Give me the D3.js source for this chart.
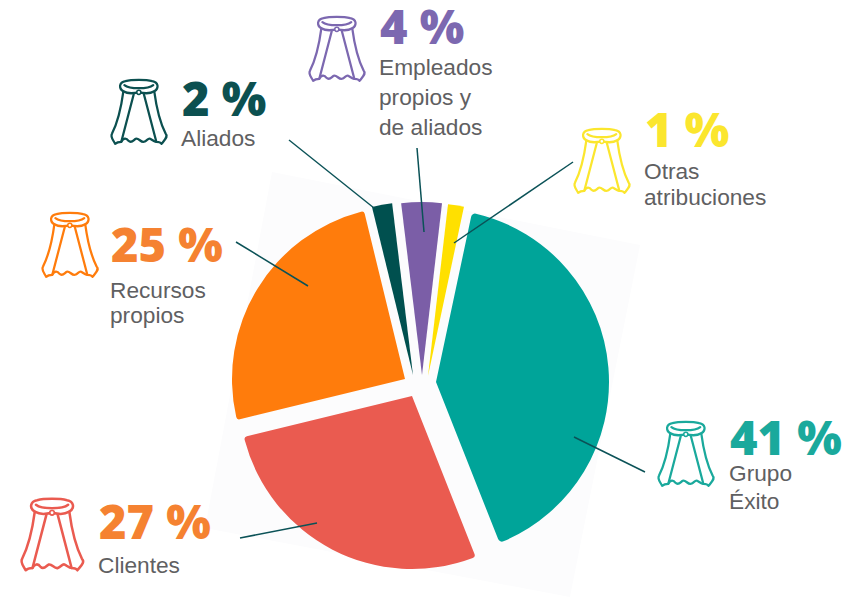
<!DOCTYPE html>
<html>
<head>
<meta charset="utf-8">
<script src="https://cdn.jsdelivr.net/npm/d3@7"></script>
<style>
  html, body { margin: 0; background: #fff; }
  svg { display: block; }
  .pct { font-family: "Open Sans", sans-serif; font-weight: 800; font-size: 47px; }
  .lbl { font-family: "Liberation Sans", sans-serif; font-size: 22.7px; fill: #5f6062; }
</style>
</head>
<body>
<div id="chart"></div>
<script>
// Values as printed on the chart
const categories = ["Grupo Éxito", "Clientes", "Recursos propios", "Aliados", "Empleados propios y de aliados", "Otras atribuciones"];
const percents = [41, 27, 25, 2, 4, 1];
const drawnShares = [41, 27.4, 25.2, 1.9, 3.8, 1.5];

const sliceColors = ["#00a499", "#ea5b50", "#ff7c0c", "#00504f", "#7b5ea7", "#ffe000"];
const pctColors = ["#1aa99c", "#f58231", "#f58231", "#0c5050", "#7c68b0", "#fbe62e"];
const capeColors = ["#1aa99c", "#ea5b50", "#ff7c0c", "#0c5050", "#7c68b0", "#fbe62e"];

// Label placement, same order as categories
const layout = [
  { x: 730, y: 455, lines: ["Grupo", "Éxito"], ly: [481, 509], cape: [658, 422, 1.03], leader: [645, 472, 574, 437] },
  { x: 99, y: 539, lines: ["Clientes"], ly: [573], cape: [21, 499, 1.15], leader: [240, 538, 317, 523] },
  { x: 111, y: 262, lines: ["Recursos", "propios"], ly: [298, 323], cape: [42, 213, 1.03], leader: [236, 242, 308, 286] },
  { x: 182, y: 116, lines: ["Aliados"], ly: [146], cape: [111, 80, 1.03], leader: [289, 140, 374, 208] },
  { x: 380, y: 44, lines: ["Empleados", "propios y", "de aliados"], ly: [75, 105, 135], cape: [309, 17, 1.03], leader: [417, 148, 424, 232] },
  { x: 645, y: 147, lines: ["Otras", "atribuciones"], ly: [179, 205], cape: [574, 129, 1.03], leader: [573, 162, 454, 243] },
];
// Where each slice's tip sits: the slices are pulled apart by hand in the picture
const tips = [[436, 382], [412, 396], [405, 379], [413, 375], [422, 375], [428, 376]];
const corners = [4, 3, 3, 0, 0, 0];

const width = 860;
const height = 599;
const radius = 173;

const svg = d3.select("#chart").append("svg").attr("width", width).attr("height", height);

// faint tilted sheet behind the pie
svg.append("polygon")
  .attr("points", "272,172 640,245 570,597 205,528")
  .attr("fill", "#fcfcfd");

const pie = d3.pie().sort(null).startAngle((12 * Math.PI) / 180).endAngle((372 * Math.PI) / 180);

const arc = d3.arc()
  .innerRadius(0)
  .outerRadius(radius)
  .cornerRadius((d) => d.corner);

svg.append("g")
  .selectAll("path")
  .data(pie(drawnShares))
  .enter()
  .append("path")
  .attr("d", (d, i) => arc({ ...d, corner: corners[i] }))
  .attr("fill", (d, i) => sliceColors[i])
  .attr("transform", (d, i) => `translate(${tips[i][0]},${tips[i][1]})`);

// leader lines
svg.append("g")
  .selectAll("line")
  .data(layout)
  .enter()
  .append("line")
  .attr("x1", (d) => d.leader[0])
  .attr("y1", (d) => d.leader[1])
  .attr("x2", (d) => d.leader[2])
  .attr("y2", (d) => d.leader[3])
  .attr("stroke", "#0b5257")
  .attr("stroke-width", 1.5);

// cape icon, drawn at about 55 x 63
function drawCape(g, color) {
  const parts = [
    // collar
    "M12,11 C7,8 8,2 14,1 C20,-0.5 34,-0.5 40,1 C46,2 47,8 42,11 C37,14 32,13 27,12 C22,13 17,14 12,11 Z",
    "M13,5 C18,9 36,9 41,5",
    // left and right panels
    "M12,11 C10,26 6,42 1,52 C-1,55 2,58 4,62 C6,60 8,60 10,60 L22,14",
    "M42,11 C44,26 48,42 53,52 C56,55 52,58 49,62 C48,60 46,60 44,60 L32,14",
    // wavy hem
    "M10,60 C12,56 15,56 17,59 C20,62 22,58 24,57 C27,56 29,61 32,60 C35,59 36,56 38,57 C40,58 42,60 44,60",
  ];
  g.selectAll("path").data(parts).enter().append("path")
    .attr("d", (d) => d)
    .attr("fill", "none")
    .attr("stroke", color)
    .attr("stroke-width", 2.2)
    .attr("stroke-linejoin", "round")
    .attr("stroke-linecap", "round");
  g.append("circle").attr("cx", 27).attr("cy", 12).attr("r", 2)
    .attr("fill", "#fff").attr("stroke", color).attr("stroke-width", 1.5);
}

const labels = svg.append("g").selectAll("g").data(layout).enter().append("g");

labels.append("g")
  .attr("transform", (d) => `translate(${d.cape[0]},${d.cape[1]}) scale(${d.cape[2]})`)
  .each(function (d, i) { drawCape(d3.select(this), capeColors[i]); });

labels.append("text")
  .attr("class", "pct")
  .attr("x", (d) => d.x)
  .attr("y", (d) => d.y)
  .attr("fill", (d, i) => pctColors[i])
  .text((d, i) => `${percents[i]} %`);

labels.each(function (d) {
  d3.select(this).selectAll(".lbl").data(d.lines).enter().append("text")
    .attr("class", "lbl")
    .attr("x", d.x - 1)
    .attr("y", (t, j) => d.ly[j])
    .text((t) => t);
});
</script>
</body>
</html>
